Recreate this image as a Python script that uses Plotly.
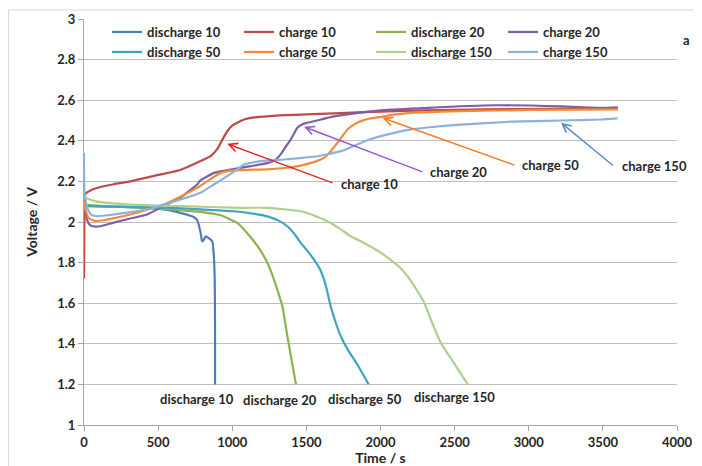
import plotly.graph_objects as go

# ---------------- data (time in s, voltage in V) ----------------
d10_t = [0, 5, 20, 100, 200, 300, 400, 500, 600, 650, 700, 740, 763, 786, 797, 810, 820, 842, 865, 876, 882, 884, 884]
d10_v = [2.10, 2.085, 2.08, 2.077, 2.075, 2.073, 2.07, 2.066, 2.055, 2.045, 2.035, 2.025, 2.01, 1.95, 1.905, 1.915, 1.93, 1.92, 1.905, 1.83, 1.70, 1.45, 1.2]

c10_t = [0, 2, 5, 10, 50, 100, 200, 313, 400, 500, 650, 786, 853, 900, 922, 966, 1000, 1034, 1080, 1146, 1250, 1348, 1500, 1686, 2003, 2300, 2700, 3100, 3600]
c10_v = [1.72, 1.95, 2.12, 2.14, 2.158, 2.17, 2.186, 2.20, 2.215, 2.232, 2.256, 2.30, 2.325, 2.36, 2.39, 2.447, 2.475, 2.489, 2.505, 2.515, 2.522, 2.526, 2.53, 2.535, 2.544, 2.55, 2.555, 2.557, 2.56]

d20_t = [0, 10, 100, 300, 500, 650, 786, 922, 980, 1034, 1090, 1146, 1190, 1236, 1270, 1304, 1338, 1372, 1400, 1430]
d20_v = [2.09, 2.085, 2.08, 2.073, 2.065, 2.058, 2.05, 2.033, 2.015, 1.996, 1.955, 1.905, 1.86, 1.80, 1.74, 1.667, 1.585, 1.437, 1.32, 1.2]

c20_t = [0, 10, 20, 40, 60, 110, 200, 300, 425, 537, 650, 763, 786, 877, 922, 1000, 1124, 1236, 1290, 1326, 1360, 1394, 1420, 1439, 1470, 1507, 1600, 1686, 1850, 2003, 2318, 2766, 3218, 3488, 3600]
c20_v = [2.10, 2.05, 2.012, 1.985, 1.979, 1.979, 1.997, 2.015, 2.037, 2.078, 2.12, 2.185, 2.205, 2.242, 2.25, 2.26, 2.275, 2.29, 2.305, 2.333, 2.37, 2.406, 2.44, 2.464, 2.48, 2.489, 2.505, 2.52, 2.538, 2.55, 2.5625, 2.575, 2.57, 2.5625, 2.565]

d50_t = [0, 10, 100, 300, 500, 700, 786, 1011, 1150, 1236, 1310, 1372, 1420, 1462, 1510, 1551, 1590, 1619, 1640, 1664, 1700, 1732, 1780, 1822, 1870, 1920]
d50_v = [2.09, 2.08, 2.078, 2.075, 2.072, 2.066, 2.062, 2.053, 2.04, 2.028, 2.008, 1.979, 1.94, 1.897, 1.855, 1.815, 1.77, 1.717, 1.66, 1.585, 1.50, 1.437, 1.37, 1.323, 1.265, 1.2]

c50_t = [0, 10, 31, 76, 155, 313, 425, 537, 650, 763, 850, 922, 1011, 1100, 1236, 1350, 1462, 1550, 1618, 1660, 1709, 1745, 1777, 1820, 1867, 1930, 2003, 2100, 2205, 2542, 3000, 3600]
c50_v = [2.10, 2.06, 2.02, 2.004, 2.012, 2.037, 2.06, 2.086, 2.125, 2.168, 2.21, 2.242, 2.254, 2.257, 2.259, 2.266, 2.278, 2.295, 2.316, 2.345, 2.39, 2.425, 2.456, 2.48, 2.497, 2.51, 2.518, 2.53, 2.538, 2.546, 2.552, 2.555]

d150_t = [0, 10, 88, 313, 650, 1056, 1236, 1350, 1462, 1560, 1642, 1720, 1799, 1867, 2003, 2092, 2140, 2182, 2240, 2295, 2350, 2407, 2500, 2588]
d150_v = [2.13, 2.12, 2.10, 2.086, 2.078, 2.07, 2.07, 2.063, 2.053, 2.03, 2.004, 1.97, 1.93, 1.905, 1.848, 1.80, 1.77, 1.733, 1.67, 1.602, 1.50, 1.405, 1.30, 1.2]

c150_t = [0, 3, 15, 30, 50, 88, 200, 425, 650, 786, 876, 966, 1034, 1078, 1191, 1349, 1450, 1574, 1650, 1732, 1790, 1845, 1920, 2003, 2100, 2205, 2350, 2542, 2880, 3218, 3488, 3600]
c150_v = [2.34, 2.14, 2.09, 2.055, 2.035, 2.029, 2.037, 2.062, 2.111, 2.144, 2.185, 2.226, 2.259, 2.283, 2.30, 2.308, 2.315, 2.324, 2.335, 2.349, 2.365, 2.382, 2.405, 2.423, 2.44, 2.456, 2.468, 2.48, 2.494, 2.50, 2.505, 2.51]

series_names = ["discharge 10", "charge 10", "discharge 20", "charge 20",
                "discharge 50", "charge 50", "discharge 150", "charge 150"]
series_t = [d10_t, c10_t, d20_t, c20_t, d50_t, c50_t, d150_t, c150_t]
series_v = [d10_v, c10_v, d20_v, c20_v, d50_v, c50_v, d150_v, c150_v]
series_colors = ["#4A7EBB", "#BE4B48", "#8DB24E", "#7D5FA5",
                 "#3FA4C2", "#F58A35", "#AFD08A", "#8DB0DC"]

x_ticks = [0, 500, 1000, 1500, 2000, 2500, 3000, 3500, 4000]
y_ticks = [1, 1.2, 1.4, 1.6, 1.8, 2, 2.2, 2.4, 2.6, 2.8, 3]

# arrow labels: (text, text_t, text_v, tail_t, tail_v, head_t, head_v, color)
arrow_labels = [
    ("charge 10", 1925, 2.188, 1687, 2.19, 966, 2.385, "#E3262B"),
    ("charge 20", 2529, 2.247, 2293, 2.244, 1484, 2.469, "#9B55CF"),
    ("charge 50", 3148, 2.282, 2914, 2.278, 2013, 2.513, "#F47B20"),
    ("charge 150", 3851, 2.278, 3578, 2.272, 3218, 2.489, "#5A8AC6"),
]
end_labels = [
    ("discharge 10", 760, 1.126),
    ("discharge 20", 1323, 1.122),
    ("discharge 50", 1898, 1.126),
    ("discharge 150", 2502, 1.137),
]

FONT = "Lato, 'Open Sans', sans-serif"
TXT = "#262626"
FS = 13

# the page body adds an 8 px margin, so the figure is 8 px smaller
# and the plot area is placed relative to that offset
PW, PH = 593, 406            # plot-area size in pixels
L0, T0 = 84, 19              # plot-area corner in page pixels


def px(xp):
    return (xp - L0) / PW


def py(yp):
    return (T0 + PH - yp) / PH


fig = go.Figure()
for i, (name, t, v, c) in enumerate(zip(series_names, series_t, series_v, series_colors)):
    fig.add_trace(go.Scatter(
        x=t, y=v, name=name, mode="lines",
        line=dict(color=c, width=2.2, shape="spline", smoothing=0.5),
        legend="legend" if i < 4 else "legend2",
        hoverinfo="skip",
    ))

for text, tx, ty, ax, ay, hx, hy, col in arrow_labels:
    fig.add_annotation(x=hx, y=hy, ax=ax, ay=ay, xref="x", yref="y", axref="x", ayref="y",
                       text="", showarrow=True, arrowhead=5, arrowsize=1.2, arrowwidth=1.4,
                       arrowcolor=col)
    fig.add_annotation(x=tx, y=ty, xref="x", yref="y", text=text, showarrow=False,
                       font=dict(family=FONT, size=FS, color=TXT, weight="bold"))

for text, tx, ty in end_labels:
    fig.add_annotation(x=tx, y=ty, xref="x", yref="y", text=text, showarrow=False,
                       font=dict(family=FONT, size=FS, color=TXT, weight="bold"))

# panel letter
fig.add_annotation(x=px(692), y=py(30), xref="paper", yref="paper",
                   text="a", showarrow=False,
                   font=dict(family=FONT, size=FS, color=TXT, weight="bold"))

# chart-area border (left and top edges visible in the reference)
fig.add_shape(type="line", xref="paper", yref="paper",
              x0=px(8.5), x1=px(8.5), y0=py(466), y1=py(10),
              line=dict(color="#D9D9D9", width=1), layer="below")
fig.add_shape(type="line", xref="paper", yref="paper",
              x0=px(8.5), x1=px(702), y0=py(10), y1=py(10),
              line=dict(color="#D9D9D9", width=1), layer="below")

legend_common = dict(orientation="h", entrywidth=87, entrywidthmode="pixels",
                     bgcolor="rgba(0,0,0,0)", borderwidth=0,
                     font=dict(family=FONT, size=FS, color=TXT, weight="bold"),
                     xanchor="left", yanchor="middle", tracegroupgap=0,
                     itemwidth=30)
fig.update_layout(
    width=702 - 8, height=466 - 8,
    margin=dict(l=L0 - 8, r=702 - (L0 + PW), t=T0 - 8, b=466 - (T0 + PH), autoexpand=False),
    paper_bgcolor="white", plot_bgcolor="white",
    showlegend=True,
    legend=dict(x=px(107), y=py(32), **legend_common),
    legend2=dict(x=px(107), y=py(52), **legend_common),
    xaxis=dict(range=[0, 4000], tickvals=x_ticks, showgrid=False, zeroline=False,
               automargin=False,
               showline=True, linecolor="#A6A6A6", linewidth=1,
               ticks="outside", ticklen=5, tickcolor="#A6A6A6",
               tickfont=dict(family=FONT, size=FS, color=TXT, weight="bold"),
               title=dict(text="Time / s", standoff=4,
                          font=dict(family=FONT, size=14, color=TXT, weight="bold"))),
    yaxis=dict(range=[1, 3], tickvals=y_ticks, ticktext=[str(v) for v in y_ticks],
               automargin=False,
               showgrid=True, gridcolor="#BFBFBF", gridwidth=1, zeroline=False,
               showline=True, linecolor="#A6A6A6", linewidth=1,
               ticks="outside", ticklen=5, tickcolor="#A6A6A6",
               tickfont=dict(family=FONT, size=FS, color=TXT, weight="bold"),
               title=dict(text="Voltage / V", standoff=16,
                          font=dict(family=FONT, size=14, color=TXT, weight="bold"))),
)

fig.write_html("out.html")
